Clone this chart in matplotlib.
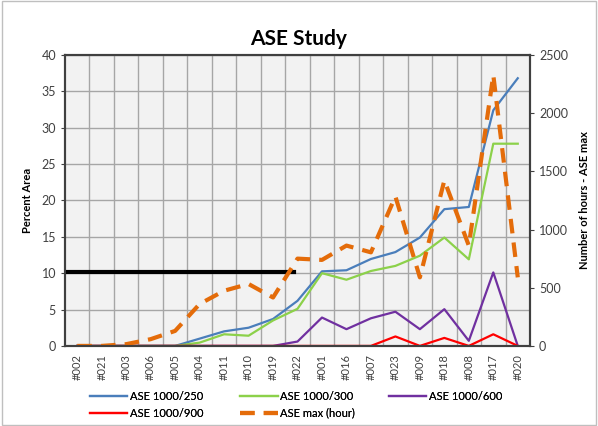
import matplotlib.pyplot as plt
import matplotlib.patches as patches

plt.rcParams['font.family'] = ['Lato', 'DejaVu Sans']

sites = ['#002', '#021', '#003', '#006', '#005', '#004', '#011', '#010', '#019', '#022',
         '#001', '#016', '#007', '#023', '#009', '#018', '#008', '#017', '#020']

ase_250 = [0, 0, 0, 0, 0, 1.0, 2.0, 2.5, 3.7, 6.2, 10.25, 10.4, 11.95, 12.9, 14.9, 18.8, 19.1, 32.4, 36.8]
ase_300 = [0, 0, 0, 0, 0, 0.45, 1.6, 1.4, 3.5, 5.1, 10.0, 9.1, 10.3, 11.0, 12.4, 14.9, 11.9, 27.8, 27.8]
ase_600 = [0, 0, 0, 0, 0, 0, 0, 0, 0, 0.6, 3.9, 2.3, 3.8, 4.7, 2.3, 5.05, 0.7, 10.1, 0]
ase_900 = [0, 0, 0, 0, 0, 0, 0, 0, 0, 0, 0, 0, 0, 1.3, 0, 1.1, 0, 1.6, 0]
ase_max_hours = [0, 0, 15, 58, 129, 360, 474, 532, 416, 750, 739, 862, 804, 1284, 589, 1422, 862, 2327, 589]

threshold = 10.1
threshold_end = 8.85

x = list(range(len(sites)))

fig = plt.figure(figsize=(5.98, 4.26), dpi=100)
ax = fig.add_axes([0.1087, 0.188, 0.7776, 0.683])
ax2 = ax.twinx()

ax.set_facecolor('#F2F2F2')
ax.set_zorder(ax2.get_zorder() - 1)
ax2.patch.set_visible(False)

# grid at category boundaries
for b in range(1, len(sites)):
    ax.axvline(b - 0.5, color='#A6A6A6', linewidth=1, zorder=1)
ax.set_yticks(range(0, 41, 5))
ax.yaxis.grid(True, color='#A6A6A6', linewidth=1, zorder=1)
ax.set_axisbelow(True)

l1, = ax.plot(x, ase_250, color='#4A7EBB', linewidth=1.6, label='ASE 1000/250', zorder=3)
l2, = ax.plot(x, ase_300, color='#8CD14A', linewidth=1.6, label='ASE 1000/300', zorder=3)
l3, = ax.plot(x, ase_600, color='#7030A0', linewidth=1.6, label='ASE 1000/600', zorder=3)
l4, = ax.plot(x, ase_900, color='#FF0000', linewidth=1.6, label='ASE 1000/900', zorder=3)
ax.plot([-0.5, threshold_end], [threshold, threshold], color='black', linewidth=3, zorder=4)

l5, = ax2.plot(x, ase_max_hours, color='#E46C0A', linewidth=3, linestyle=(0, (3.5, 2.2)),
               label='ASE max (hour)')

ax.set_xlim(-0.5, len(sites) - 0.5)
ax.set_ylim(0, 40)
ax2.set_ylim(0, 2500)
ax2.set_yticks(range(0, 2501, 500))

ax.set_xticks(x)
ax.set_xticklabels(sites, rotation=90, fontsize=8, color='#404040')
ax.tick_params(axis='x', length=0, pad=6)
ax.tick_params(axis='y', labelsize=9, colors='#404040', length=3)
ax2.tick_params(axis='y', labelsize=9, colors='#404040', length=3)

for sp in ax.spines.values():
    sp.set_color('#404040')
    sp.set_linewidth(1.5)
for sp in ax2.spines.values():
    sp.set_color('#404040')
    sp.set_linewidth(1.5)

ax.set_ylabel('Percent Area', fontsize=8, fontweight='bold', labelpad=6)
ax2.set_ylabel('Number of hours - ASE max', fontsize=8, fontweight='bold', labelpad=8)
fig.text(0.5, 0.895, 'ASE Study', ha='center', fontsize=15, fontweight='bold')

# legend laid out in fixed columns like the Excel legend
legend_cols = [([l1, l4], 0.15), ([l2, l5], 0.401), ([l3], 0.65)]
for handles, xpos in legend_cols:
    leg = fig.legend(handles, [h.get_label() for h in handles], loc='upper left',
                     bbox_to_anchor=(xpos, 0.083), frameon=False, fontsize=8,
                     handlelength=3.4, labelspacing=0.55, handletextpad=0.2,
                     borderaxespad=0, borderpad=0)
    fig.add_artist(leg)

fig.patches.append(patches.Rectangle((0.003, 0.003), 0.994, 0.994, transform=fig.transFigure,
                                     fill=False, edgecolor='#BFBFBF', linewidth=1))

fig.savefig('out.png', dpi=100)
